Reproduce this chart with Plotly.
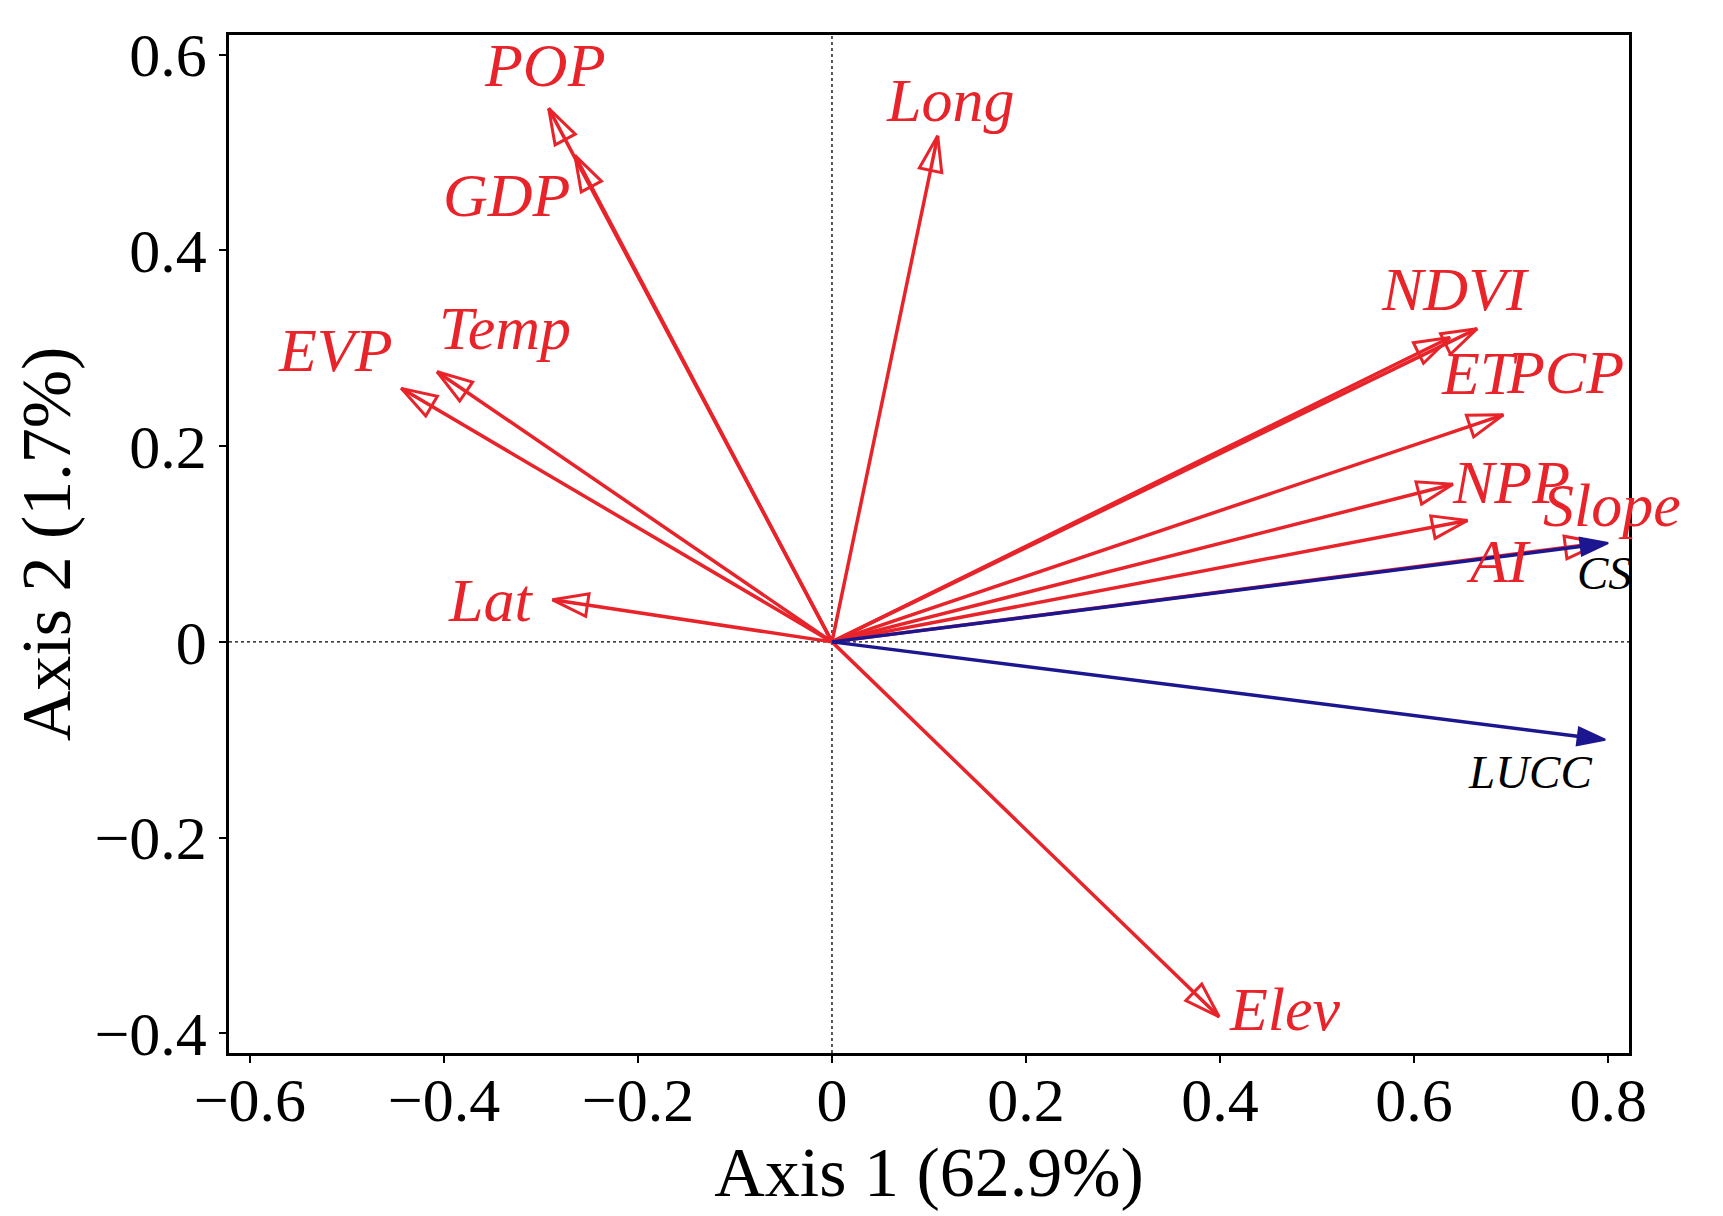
import plotly.graph_objects as go

# Biplot vectors
env_names = ["POP", "GDP", "Long", "EVP", "Temp", "Lat",
             "NDVI", "ET", "PCP", "NPP", "AI", "Slope", "Elev"]
env_x = [-0.292, -0.265, 0.109, -0.444, -0.407, -0.288,
         0.665, 0.637, 0.692, 0.640, 0.655, 0.792, 0.399]
env_y = [0.545, 0.497, 0.517, 0.259, 0.276, 0.043,
         0.320, 0.311, 0.232, 0.161, 0.124, 0.101, -0.383]

resp_names = ["CS", "LUCC"]
resp_x = [0.800, 0.797]
resp_y = [0.101, -0.100]

x_ticks = [-0.6, -0.4, -0.2, 0, 0.2, 0.4, 0.6, 0.8]
y_ticks = [-0.4, -0.2, 0, 0.2, 0.4, 0.6]

RED = "#e8232a"
BLUE = "#1c1690"
FONT = "Liberation Serif"

# label offsets from arrow tips, in pixels
env_offsets = {
    "POP": (-4, 43), "GDP": (-68, -40), "Long": (12, 36), "EVP": (-66, 38),
    "Temp": (68, 44), "Lat": (-62, 0), "NDVI": (-22, 40), "ET": (30, -36),
    "PCP": (62, 43), "NPP": (58, 2), "AI": (32, -40), "Slope": (12, 38),
    "Elev": (66, 8),
}
resp_offsets = {"CS": (-4, -30), "LUCC": (-75, -32)}

fig = go.Figure()

fig.add_hline(y=0, line=dict(color="black", width=1.3, dash="dot"), layer="below")
fig.add_vline(x=0, line=dict(color="black", width=1.3, dash="dot"), layer="below")

for name, x, y in zip(env_names, env_x, env_y):
    fig.add_trace(go.Scatter(
        x=[0, x], y=[0, y], mode="lines+markers",
        line=dict(color=RED, width=3.5),
        marker=dict(symbol="arrow-open", size=[0, 37], angleref="previous", opacity=1,
                    color=RED, line=dict(color=RED, width=3)),
        hoverinfo="skip", showlegend=False))

for name, x, y in zip(resp_names, resp_x, resp_y):
    fig.add_trace(go.Scatter(
        x=[0, x], y=[0, y], mode="lines+markers",
        line=dict(color=BLUE, width=3.5),
        marker=dict(symbol="arrow", size=[0, 29], angleref="previous", opacity=1,
                    color=BLUE, line=dict(color=BLUE, width=2)),
        hoverinfo="skip", showlegend=False))

for name, x, y in zip(env_names, env_x, env_y):
    dx, dy = env_offsets[name]
    fig.add_annotation(x=x, y=y, text="<i>%s</i>" % name, showarrow=False,
                       xshift=dx, yshift=dy,
                       font=dict(family=FONT, size=62, color=RED))

for name, x, y in zip(resp_names, resp_x, resp_y):
    dx, dy = resp_offsets[name]
    fig.add_annotation(x=x, y=y, text="<i>%s</i>" % name, showarrow=False,
                       xshift=dx, yshift=dy,
                       font=dict(family=FONT, size=47, color="black"))

axis_common = dict(showgrid=False, zeroline=False, showline=True, linecolor="black",
                   linewidth=2.5, mirror=True, ticks="outside", ticklen=7,
                   tickcolor="black", tickwidth=2,
                   tickfont=dict(family=FONT, size=62, color="black"))

fig.update_xaxes(range=[-0.6215, 0.8215], tickvals=x_ticks,
                 ticktext=["\u22120.6", "\u22120.4", "\u22120.2", "0", "0.2", "0.4", "0.6", "0.8"],
                 ticklabelstandoff=-16,
                 title=dict(text="Axis 1 (62.9%)", standoff=2,
                            font=dict(family=FONT, size=70, color="black")),
                 **axis_common)
fig.update_yaxes(range=[-0.42, 0.62], tickvals=y_ticks,
                 ticktext=["\u22120.4", "\u22120.2", "0", "0.2", "0.4", "0.6"],
                 title=dict(text="Axis 2 (1.7%)", standoff=4,
                            font=dict(family=FONT, size=70, color="black")),
                 **axis_common)

fig.update_layout(width=1723, height=1216, plot_bgcolor="white", paper_bgcolor="white",
                  margin=dict(l=221, r=102, t=27, b=171))

fig.write_html("out.html")
